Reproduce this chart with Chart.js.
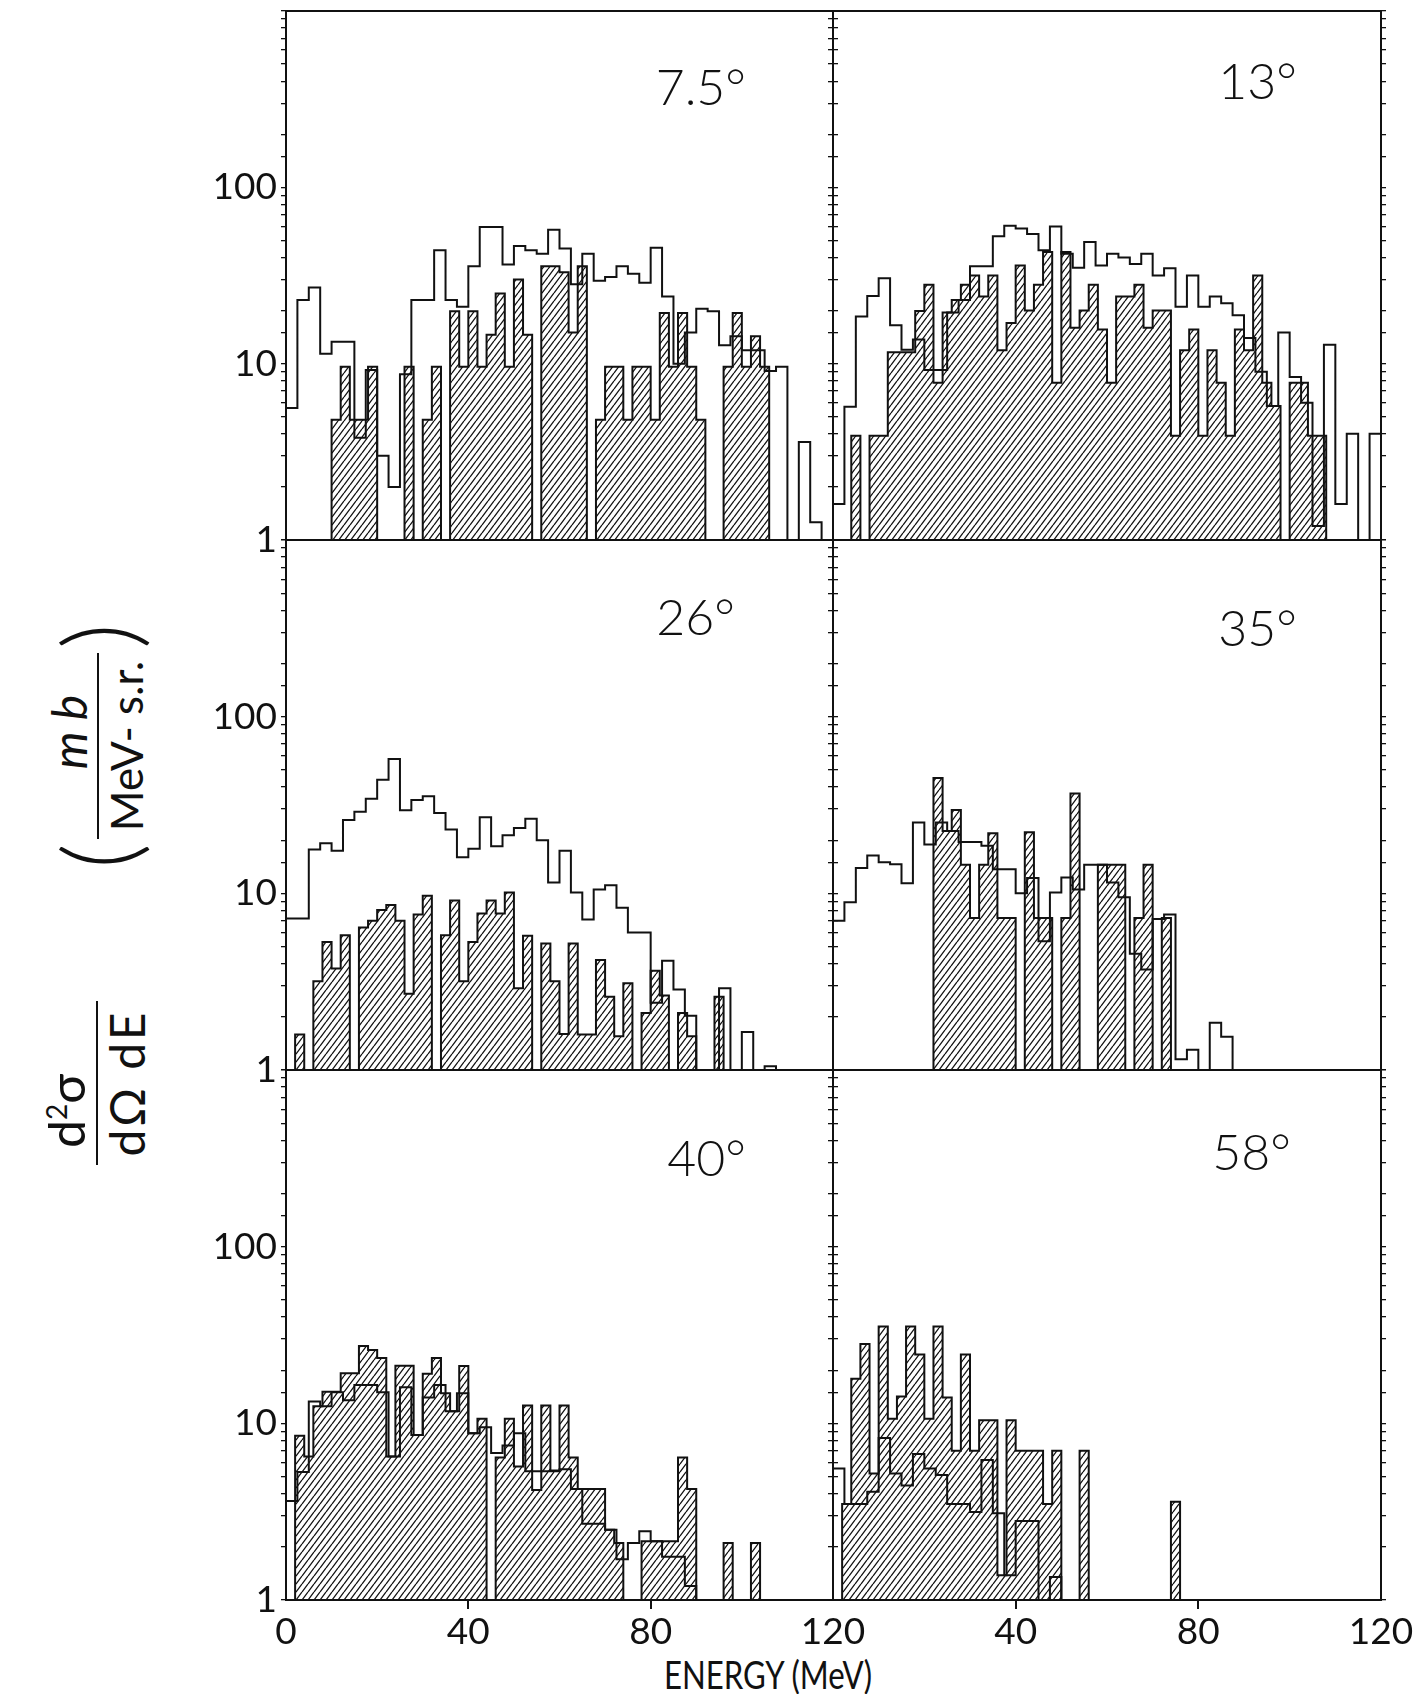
<!DOCTYPE html>
<html>
<head>
<meta charset="utf-8">
<script src="https://cdn.jsdelivr.net/npm/chart.js@4.4.1/dist/chart.umd.min.js"></script>
<style>
    html, body { margin: 0; padding: 0; background: #fff; }
    #page { position: relative; width: 1420px; height: 1694px; overflow: hidden; font-family: Lato, 'DejaVu Sans', sans-serif; color: #111; }
    #page canvas { position: absolute; }
    .rot { position: absolute; transform: rotate(-90deg); display: flex; align-items: center; justify-content: center; font-weight: 400; white-space: nowrap; }
    .frac { display: inline-flex; flex-direction: column; align-items: center; margin: 0 4px; }
    .frac .num { position: relative; line-height: 1.05; padding-bottom: 3px; }
    .frac .den { line-height: 1.1; border-top: 2px solid #111; padding: 3px 8px 0 8px; }
    .paren { font-size: 100px; font-weight: 300; line-height: 1; }
    #xtitle { position: absolute; left: 768px; top: 1674px; transform: translate(-50%, -50%) scaleX(0.82); font-size: 38px; font-weight: 400; white-space: nowrap; }
</style>
</head>
<body>
<div id="page">
    <div class="rot" style="left:-23px; top:681px; width:240px; height:130px;">
        <span class="paren">(</span>
        <span class="frac"><span class="num" style="font-size:48px; left:14px"><i>m b</i></span><span class="den" style="font-size:44px">MeV- s.r.</span></span>
        <span class="paren">)</span>
    </div>
    <div class="rot" style="left:-3px; top:1018px; width:200px; height:130px;">
        <span class="frac"><span class="num" style="font-size:50px; left:-28px">d<sup style="font-size:28px">2</sup>σ</span><span class="den" style="font-size:48px; letter-spacing:3px">dΩ dE</span></span>
    </div>
    <div id="xtitle">ENERGY (MeV)</div>
</div>
<script>
// bins: hatched histogram 2 MeV, open histogram 2.5 MeV
const hatchBinWidth = 2;
const openBinWidth = 2.5;
const panelAngles = ['7.5°', '13°', '26°', '35°', '40°', '58°'];
const xTickStep = 40;
const yLabelValues = [1, 10, 100];

// open (unhatched) histograms, 48 bins of 2.5 MeV, mb/MeV-sr
const open75 = [5.6, 23, 27, 11.4, 13.3, 13.3, 3.8, 9.2, 3, 2.0, 8.7, 23, 23, 44, 23, 21, 35.7, 59.5, 59.5, 36.5, 46.5, 44, 42, 57.5, 45, 28.2, 42, 29.5, 31, 35.7, 32.4, 28.8, 45.5, 24, 10, 15, 20.5, 19.8, 12.7, 14.3, 11.9, 11.9, 9.1, 9.6, 1, 3.6, 1.26, 1];
const open13 = [1.6, 5.7, 18.5, 24.2, 30.5, 16.5, 12, 13.7, 9.2, 9.2, 19.5, 23, 35.7, 35.7, 52.8, 60.5, 58.5, 54.4, 44, 60, 42, 35, 49, 36, 42, 40, 36.7, 42, 31.6, 34.8, 21, 31.6, 21, 24, 22, 18.8, 14, 9, 5.75, 15, 8.4, 6, 1.2, 12.8, 1.6, 4, 1, 4];
const open26 = [7.2, 7.2, 17.7, 19.2, 17.4, 26, 29, 34.3, 44, 57.6, 29.5, 33.8, 35.5, 28.5, 23, 16, 17.9, 27, 18.5, 21.3, 23.4, 26.4, 20, 11.5, 17.4, 10.1, 7.1, 10.5, 11.1, 8.3, 6, 6, 2.4, 4.15, 2.86, 2.03, 1, 1, 2.9, 1, 1.64, 1, 1.05, 1, 1, 1, 1, 1];
const open35 = [7.0, 8.9, 13.9, 16.4, 15.0, 14.6, 11.4, 25.2, 18.9, 25.2, 22.5, 19.5, 19.5, 18.6, 13.7, 13.7, 10, 12.2, 5.35, 10.1, 12.3, 10.5, 14.5, 14.5, 11.5, 9.5, 4.55, 3.7, 7.15, 7.6, 1.15, 1.3, 1, 1.85, 1.54, 1, 1, 1, 1, 1, 1, 1, 1, 1, 1, 1, 1, 1];
const open40 = [3.63, 5.3, 13.3, 12.5, 15, 13.5, 16.5, 16.5, 15, 6.5, 16, 8.6, 14, 16.5, 11.7, 14.8, 8.8, 9.5, 6.8, 7.5, 8.8, 5.35, 5.35, 5.35, 5.5, 4.25, 2.7, 2.7, 2.5, 1.7, 2.1, 2.45, 2.15, 1.76, 1.76, 1.2, 1, 1, 1, 1, 1, 1, 1, 1, 1, 1, 1, 1];
const open58 = [5.55, 3.5, 3.5, 4.1, 8.25, 5.2, 4.45, 6.7, 5.55, 5.1, 3.5, 3.5, 3.15, 6.2, 3.1, 1.38, 2.8, 2.8, 1, 1.35, 1, 1, 1, 1, 1, 1, 1, 1, 1, 1, 1, 1, 1, 1, 1, 1, 1, 1, 1, 1, 1, 1, 1, 1, 1, 1, 1, 1];

// hatched histograms, 60 bins of 2 MeV (0 = empty bin)
const hatch75 = [0, 0, 0, 0, 0, 4.8, 9.6, 4.8, 4.8, 9.6, 0, 0, 0, 9.6, 0, 4.8, 9.6, 0, 19.8, 9.6, 19.8, 9.6, 14.6, 25, 9.6, 30, 14.6, 0, 35.7, 35.7, 33, 15, 35.7, 0, 4.8, 9.6, 9.6, 4.8, 9.6, 9.6, 4.8, 19.4, 9.6, 19.4, 9.6, 4.8, 0, 0, 9.6, 19.4, 9.6, 14.3, 9.6, 0, 0, 0, 0, 0, 0, 0];
const hatch13 = [0, 0, 3.9, 0, 3.9, 3.9, 11.6, 11.6, 11.6, 19.9, 28, 7.8, 19.5, 23, 28, 31.6, 24, 31.6, 11.9, 17, 36, 20, 28, 43, 7.8, 43, 16, 20, 28, 15.6, 7.8, 24, 24, 28, 16, 20, 20, 3.9, 11.9, 15.6, 3.9, 11.9, 7.8, 3.9, 15.6, 11.9, 31.6, 7.8, 5.75, 0, 7.8, 7.8, 3.9, 3.9, 0, 0, 0, 0, 0, 0];
const hatch26 = [0, 1.59, 0, 3.18, 5.3, 3.75, 5.8, 0, 6.4, 7.0, 8.05, 8.6, 7.0, 2.7, 7.6, 9.7, 0, 5.8, 9.1, 3.18, 5.3, 7.7, 9.1, 7.7, 10.1, 2.9, 5.75, 0, 5.2, 3.18, 1.6, 5.2, 1.59, 1.59, 4.2, 2.6, 1.55, 3.1, 0, 2.1, 3.65, 2.64, 0, 2.1, 1.55, 0, 0, 2.6, 0, 0, 0, 0, 0, 0, 0, 0, 0, 0, 0, 0];
const hatch35 = [0, 0, 0, 0, 0, 0, 0, 0, 0, 0, 0, 45, 22.5, 29.6, 14.5, 7.25, 14.5, 21.9, 7.25, 7.25, 0, 22.2, 7.25, 7.25, 0, 7.25, 36.7, 0, 0, 14.5, 14.5, 14.5, 0, 7.25, 14.5, 0, 7.25, 0, 0, 0, 0, 0, 0, 0, 0, 0, 0, 0, 0, 0, 0, 0, 0, 0, 0, 0, 0, 0, 0, 0];
const hatch40 = [0, 8.5, 6.5, 12.5, 15.1, 15.1, 19.2, 19.2, 27.4, 26, 23.4, 6.5, 21.2, 21.2, 8.6, 19.1, 23.4, 14.8, 11.7, 21.1, 8.8, 10.6, 0, 6.4, 10.6, 5.7, 12.6, 4.2, 12.6, 5.4, 12.6, 6.4, 4.25, 4.25, 4.25, 2.5, 2.1, 0, 0, 2.15, 2.15, 2.15, 2.15, 6.4, 4.25, 0, 0, 0, 2.1, 0, 0, 2.1, 0, 0, 0, 0, 0, 0, 0, 0];
const hatch58 = [0, 3.5, 17.9, 28.1, 5.2, 35.3, 10.6, 14.2, 35.3, 24.5, 10.6, 35.3, 14, 7.0, 24.5, 7.0, 10.4, 10.4, 1.38, 10.4, 7.0, 7.0, 7.0, 3.5, 7.0, 0, 0, 7.0, 0, 0, 0, 0, 0, 0, 0, 0, 0, 3.6, 0, 0, 0, 0, 0, 0, 0, 0, 0, 0, 0, 0, 0, 0, 0, 0, 0, 0, 0, 0, 0, 0];

const openSeries = [open75, open13, open26, open35, open40, open58];
const hatchSeries = [hatch75, hatch13, hatch26, hatch35, hatch40, hatch58];

// page layout of the six frames
const colLeft = [286, 833];
const colRight = [833, 1381];
const rowTop = [11, 540, 1070];
const rowBottom = [540, 1070, 1600];
const margin = { left: 80, right: 40, top: 30, bottom: 62 };
const labelOffset = [[87, 94], [84, 88], [98, 95], [84, 106], [87, 106], [90, 100]];
const ink = '#111';

function stepPoints(values, width) {
    const pts = [{ x: 0, y: 1 }];
    values.forEach((v, i) => pts.push({ x: i * width, y: Math.max(v, 1) }));
    const end = values.length * width;
    pts.push({ x: end, y: Math.max(values[values.length - 1], 1) });
    pts.push({ x: end, y: 1 });
    return pts;
};

function hatchPattern(ctx) {
    const w = 6, h = 8;
    const tile = document.createElement('canvas');
    tile.width = w;
    tile.height = h;
    const g = tile.getContext('2d');
    g.strokeStyle = ink;
    g.lineWidth = 1.3;
    g.beginPath();
    for (const dx of [-w, 0, w]) {
        g.moveTo(dx, h);
        g.lineTo(dx + w, 0);
    }
    g.stroke();
    return ctx.createPattern(tile, 'repeat');
};

const angleLabelPlugin = {
    id: 'angleLabel',
    afterDraw(chart, args, opts) {
        const { ctx, chartArea } = chart;
        ctx.save();
        ctx.font = '300 50px Lato, "DejaVu Sans", sans-serif';
        ctx.fillStyle = ink;
        ctx.textAlign = 'right';
        ctx.textBaseline = 'alphabetic';
        ctx.fillText(opts.text, chartArea.right - opts.dx, chartArea.top + opts.dy);
        ctx.restore();
    }
};

const tickFont = { family: 'Lato, "DejaVu Sans", sans-serif', size: 37, weight: 400 };
const page = document.getElementById('page');

panelAngles.forEach((angle, p) => {
    const col = p % 2;
    const row = Math.floor(p / 2);
    const w = colRight[col] - colLeft[col];
    const h = rowBottom[row] - rowTop[row];
    const cv = document.createElement('canvas');
    cv.width = w + margin.left + margin.right;
    cv.height = h + margin.top + margin.bottom;
    cv.style.left = (colLeft[col] - margin.left) + 'px';
    cv.style.top = (rowTop[row] - margin.top) + 'px';
    page.appendChild(cv);
    const ctx = cv.getContext('2d');
    const bottomRow = row === 2;

    new Chart(ctx, {
        type: 'line',
        data: {
            datasets: [
                {
                    label: 'total',
                    data: stepPoints(openSeries[p], openBinWidth),
                    stepped: 'before',
                    borderColor: ink,
                    borderWidth: 2,
                    pointRadius: 0,
                    fill: false,
                    order: 0
                },
                {
                    label: 'hatched',
                    data: stepPoints(hatchSeries[p], hatchBinWidth),
                    stepped: 'before',
                    borderColor: ink,
                    borderWidth: 2,
                    pointRadius: 0,
                    fill: 'start',
                    backgroundColor: hatchPattern(ctx),
                    order: 1
                }
            ]
        },
        options: {
            responsive: false,
            animation: false,
            events: [],
            layout: { padding: 0 },
            plugins: {
                legend: { display: false },
                tooltip: { enabled: false },
                angleLabel: { text: angle, dx: labelOffset[p][0], dy: labelOffset[p][1] }
            },
            scales: {
                x: {
                    type: 'linear', position: 'bottom', min: 0, max: 120, offset: false,
                    afterFit: (s) => { s.height = margin.bottom; },
                    ticks: {
                        display: bottomRow, stepSize: xTickStep, autoSkip: false, maxRotation: 0,
                        color: ink, font: tickFont, padding: 1,
                        callback: (v) => (col === 1 && v === 0) ? '' : String(v)
                    },
                    grid: {
                        display: bottomRow, offset: false, drawOnChartArea: false, tickLength: 9, lineWidth: 2,
                        color: (c) => (c.tick && (c.tick.value === 0 || c.tick.value === 120)) ? 'rgba(0,0,0,0)' : ink
                    },
                    border: { display: true, color: ink, width: 2, z: 1 }
                },
                xTop: {
                    type: 'linear', position: 'top', min: 0, max: 120, offset: false,
                    afterFit: (s) => { s.height = margin.top; },
                    ticks: { display: false },
                    grid: { display: false },
                    border: { display: true, color: ink, width: 2, z: 1 }
                },
                y: {
                    type: 'logarithmic', position: 'left', min: 1, max: 1000,
                    afterFit: (s) => { s.width = margin.left; },
                    ticks: {
                        autoSkip: false, color: ink, font: tickFont, padding: 4,
                        callback: (v) => (col === 0 && yLabelValues.includes(v)) ? String(v) : ''
                    },
                    grid: { drawOnChartArea: false, tickLength: 5, lineWidth: 1.3, color: ink, z: 1 },
                    border: { display: true, color: ink, width: 2, z: 1 }
                },
                yRight: {
                    type: 'logarithmic', position: 'right', min: 1, max: 1000,
                    afterFit: (s) => { s.width = margin.right; },
                    ticks: { display: false, autoSkip: false },
                    grid: { drawOnChartArea: false, tickLength: 5, lineWidth: 1.3, color: ink, z: 1 },
                    border: { display: true, color: ink, width: 2, z: 1 }
                }
            }
        },
        plugins: [angleLabelPlugin]
    });
});
</script>
</body>
</html>
